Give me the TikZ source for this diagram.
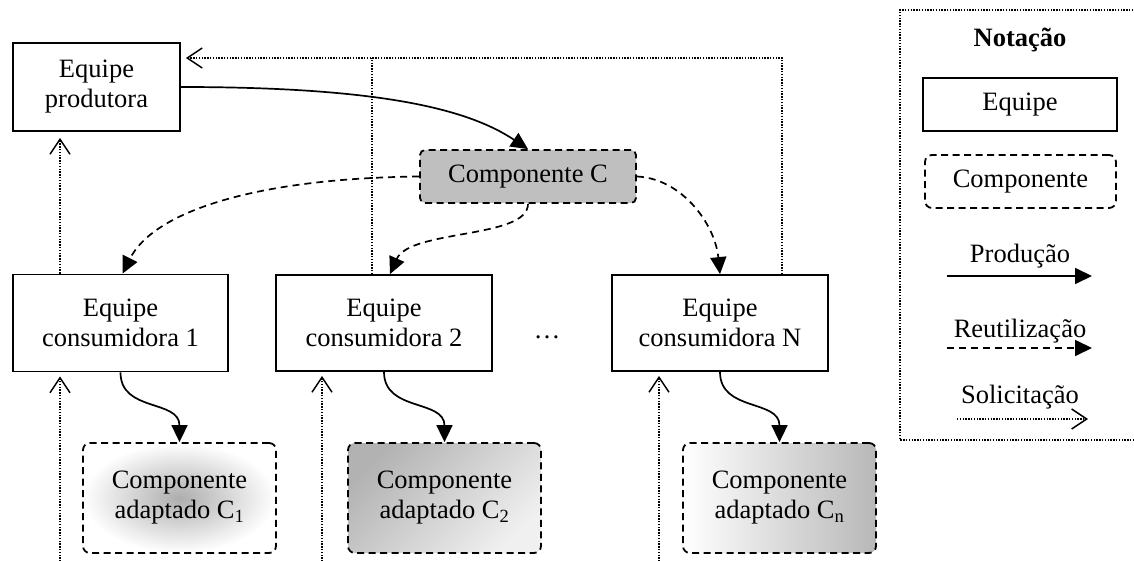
\documentclass[tikz,border=0pt]{standalone}
\usepackage{fontspec}
\setmainfont{Liberation Serif}
\usetikzlibrary{arrows.meta,calc}

\begin{document}
\begin{tikzpicture}[x=1pt,y=-1pt,
  txt/.style={font=\fontsize{26.5}{30}\selectfont, align=center, inner sep=0pt},
  team/.style={txt, draw, line width=1.8pt},
  comp/.style={txt, draw, line width=1.8pt, dash pattern=on 7pt off 4.5pt, rounded corners=7pt},
  prodarrow/.style={line width=1.7pt, -{Triangle[length=17pt,width=16pt]}},
  reuse/.style={line width=1.7pt, dash pattern=on 7pt off 5pt, -{Triangle[length=17pt,width=16pt]}},
  reqline/.style={line width=1.4pt, dash pattern=on 1.4pt off 1.4pt},
  req/.style={reqline, -{Straight Barb[length=15pt,width=20pt,line width=1.5pt]}},
]
\useasboundingbox (0,0) rectangle (1134,561);
\clip (0,0) rectangle (1134,561);

% teams
\node[team, minimum width=167pt, minimum height=88pt] (prod) at (96.5,87) {Equipe\\produtora};
\node[team, minimum width=215pt, minimum height=97pt] (c1) at (120.5,323) {Equipe\\consumidora 1};
\node[team, minimum width=216pt, minimum height=96pt] (c2) at (384,323) {Equipe\\consumidora 2};
\node[team, minimum width=216pt, minimum height=96pt] (cN) at (720,323) {Equipe\\consumidora N};
\node[txt, anchor=base] (dots) at (547,338) {\dots};

% components
\node[comp, fill=black!25, rounded corners=5pt, minimum width=216pt, minimum height=53pt] (compC) at (528,176.5) {Componente C};
\node[comp, inner color=black!32, outer color=white, minimum width=193pt, minimum height=110pt] (a1) at (179.5,498) {Componente\\adaptado C\textsubscript{1}};
\node[comp, top color=black!30, bottom color=black!6, shading angle=45, minimum width=193pt, minimum height=110pt] (a2) at (444.5,498) {Componente\\adaptado C\textsubscript{2}};
\node[comp, left color=white, right color=black!28, minimum width=193pt, minimum height=110pt] (aN) at (779.5,498) {Componente\\adaptado C\textsubscript{n}};

% production
\draw[prodarrow] (prod.east) .. controls +(200,0) and +(-60,-40) .. (compC.north);
\draw[prodarrow] (c1.south) .. controls +(0,40) and +(0,-43) .. (a1.north);
\draw[prodarrow] (c2.south) .. controls +(0,40) and +(0,-43) .. (a2.north);
\draw[prodarrow] (cN.south) .. controls +(0,40) and +(0,-43) .. (aN.north);

% reuse
\draw[reuse] (compC.west) .. controls +(-170,2) and +(30,-60) .. ([xshift=2pt]c1.north);
\draw[reuse] (compC.south) .. controls +(0,35) and +(20,-45) .. ([xshift=6pt]c2.north);
\draw[reuse] (compC.east) .. controls +(45,2) and +(-5,-50) .. (cN.north);

% requests
\coordinate (top) at (782,58);
\coordinate (r1) at (60,570);
\coordinate (r2) at (322,570);
\coordinate (rN) at (659,570);
\draw[req, shorten >=4pt] (r1) -- (r1 |- c1.south);
\draw[req, shorten >=4pt] (r2) -- (r2 |- c2.south);
\draw[req, shorten >=4pt] (rN) -- (rN |- cN.south);
\draw[req, shorten >=6pt] (c1.north -| r1) -- (prod.south -| r1);
\draw[req, shorten >=5pt] (top |- cN.north) -- (top) -- (prod.east |- top);
\draw[reqline] ([xshift=-12pt]c2.north) -- ([xshift=-12pt]c2.north |- top);

% legend frame (runs off the right edge)
\draw[reqline] (1150,10) -- (900,10) -- (900,440) -- (1150,440);
\node[txt, font=\fontsize{26.5}{30}\selectfont\bfseries, anchor=base] (lgtitle) at (1020,47) {Notação};
\node[team, minimum width=194pt, minimum height=53pt] (lgteam) at (1020,104.5) {Equipe};
\node[comp, minimum width=191pt, minimum height=53pt] (lgcomp) at (1020.5,181.5) {Componente};
\node[txt, anchor=base] (lgprod) at (1020,262) {Produção};
\coordinate (lgp1) at (947,276);
\coordinate (lgp2) at (1092,276);
\draw[prodarrow] (lgp1) -- (lgp2);
\node[txt, anchor=base] (lgreuse) at (1020,337) {Reutilização};
\coordinate (lgr1) at (947,348);
\coordinate (lgr2) at (1092,348);
\draw[reuse] (lgr1) -- (lgr2);
\node[txt, anchor=base] (lgreq) at (1020,403) {Solicitação};
\coordinate (lgq1) at (957,419);
\coordinate (lgq2) at (1088,419);
\draw[req] (lgq1) -- (lgq2);
\end{tikzpicture}
\end{document}
